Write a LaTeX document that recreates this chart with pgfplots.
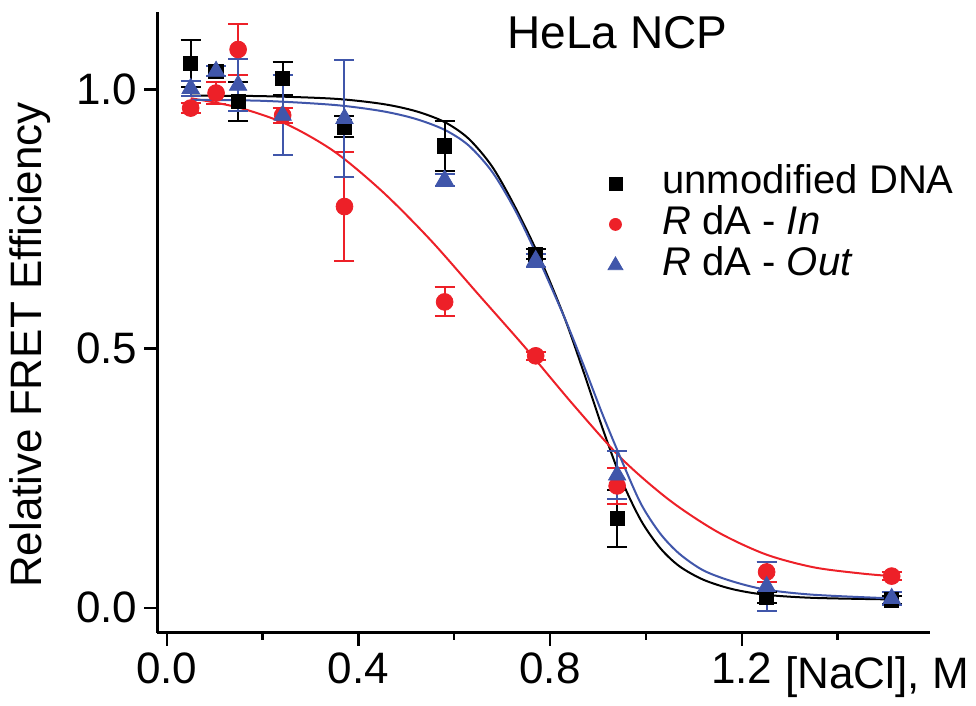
\documentclass[border=0pt]{standalone}
\usepackage{fontspec}
\setmainfont{Liberation Sans}
\usepackage{pgfplots}
\pgfplotsset{compat=1.18}
\definecolor{fitred}{RGB}{237,32,40}
\definecolor{fitblue}{RGB}{64,86,170}
\pgfplotsset{
  ebars/.style={error bars/.cd, y dir=both, y explicit,
    error bar style={line width=1pt, #1},
    error mark options={rotate=90, mark size=5pt, line width=1pt, #1}},
}
\begin{document}
\begin{tikzpicture}
\begin{axis}[
  scale only axis, width=386.4pt, height=310.5pt,
  xmin=-0.0196, xmax=1.593, ymin=-0.048, ymax=1.15,
  axis x line=bottom, axis y line=left,
  axis line style={-, line width=1.3pt},
  tick align=outside, major tick length=6.5pt, minor tick length=3.5pt,
  every tick/.style={black, line width=1.2pt},
  xtick={0,0.4,0.8,1.2}, minor xtick={0.2,0.6,1.0,1.4},
  ytick={0,0.5,1.0},
  /pgf/number format/.cd, fixed, fixed zerofill, precision=1, assume math mode=true, /pgfplots/.cd,
  ticklabel style={font=\fontsize{22}{26}\selectfont},
  clip=false,
  title={HeLa NCP},
  title style={at={(axis description cs:0.4526,0.9206)}, anchor=base west, inner sep=0pt, font=\fontsize{23}{27}\selectfont},
  xlabel={[NaCl], M},
  xlabel style={at={(axis description cs:0.8124,-0.0895)}, anchor=base west, inner sep=0pt, font=\fontsize{22}{26}\selectfont},
  ylabel={Relative FRET Efficiency},
  ylabel style={at={(axis description cs:-0.1647,0.463)}, anchor=center, inner sep=0pt, font=\fontsize{22}{26}\selectfont},
  legend image code/.code={\draw[#1] plot coordinates {(0pt,0pt)}; \path[draw=none, fill=none] (-8pt,-9pt) (23.5pt,9pt);},
  legend style={at={(0.5717,0.753)}, anchor=north west, draw=none, fill=none, inner sep=0pt,
    font=\fontsize{20}{24}\selectfont, row sep=2.5pt,
    nodes={inner xsep=0pt, inner ysep=0pt, text height=14pt, text depth=4pt}},
  legend cell align=left,
]
\addlegendimage{only marks, mark=square*, mark size=3.25pt, black}
\addlegendentry{unmodified DNA}
\addlegendimage{only marks, mark=*, mark size=3pt, fitred}
\addlegendentry{\textit{R} dA - \textit{In}}
\addlegendimage{only marks, mark=triangle*, mark size=4.3pt, fitblue}
\addlegendentry{\textit{R} dA - \textit{Out}}

% fitted curves
\addplot[black, line width=1pt, smooth, forget plot] coordinates {
  (0.05,0.988) (0.20,0.987) (0.35,0.982) (0.45,0.972) (0.52,0.958) (0.58,0.937)
  (0.63,0.905) (0.68,0.850) (0.73,0.768) (0.78,0.672) (0.83,0.560) (0.87,0.455)
  (0.91,0.345) (0.95,0.245) (0.99,0.168) (1.03,0.115) (1.07,0.080) (1.12,0.054)
  (1.18,0.036) (1.25,0.025) (1.35,0.019) (1.513,0.016)
};
\addplot[fitred, line width=1pt, smooth, forget plot] coordinates {
  (0.05,0.983) (0.15,0.965) (0.25,0.933) (0.35,0.880) (0.45,0.803) (0.55,0.710)
  (0.65,0.605) (0.75,0.500) (0.85,0.390) (0.95,0.287) (1.05,0.207) (1.15,0.146)
  (1.25,0.103) (1.35,0.078) (1.45,0.066) (1.513,0.061)
};
\addplot[fitblue, line width=1pt, smooth, forget plot] coordinates {
  (0.05,0.980) (0.20,0.978) (0.35,0.970) (0.45,0.958) (0.52,0.943) (0.58,0.922)
  (0.63,0.892) (0.68,0.840) (0.73,0.762) (0.78,0.665) (0.83,0.560) (0.87,0.468)
  (0.91,0.372) (0.95,0.283) (0.99,0.200) (1.03,0.143) (1.07,0.104) (1.12,0.072)
  (1.18,0.051) (1.25,0.035) (1.35,0.025) (1.513,0.018)
};

% data with error bars
\addplot[only marks, mark=square*, mark size=3.6pt, black, forget plot, ebars=black] coordinates {
  (0.050,1.050) +- (0,0.045)
  (0.103,1.035) +- (0,0.010)
  (0.149,0.977) +- (0,0.038)
  (0.242,1.021) +- (0,0.032)
  (0.371,0.928) +- (0,0.020)
  (0.580,0.891) +- (0,0.049)
  (0.770,0.682) +- (0,0.010)
  (0.940,0.172) +- (0,0.055)
  (1.252,0.020) +- (0,0.010)
  (1.513,0.015) +- (0,0.008)
};
\addplot[only marks, mark=*, mark size=4.2pt, fitred, forget plot, ebars=fitred] coordinates {
  (0.050,0.964) +- (0,0.010)
  (0.103,0.993) +- (0,0.022)
  (0.149,1.077) +- (0,0.050)
  (0.242,0.950) +- (0,0.015)
  (0.371,0.774) +- (0,0.106)
  (0.580,0.590) +- (0,0.028)
  (0.770,0.486) +- (0,0.008)
  (0.940,0.235) +- (0,0.035)
  (1.252,0.069) +- (0,0.020)
  (1.513,0.061) +- (0,0.008)
};
\addplot[only marks, mark=triangle*, mark size=5pt, fitblue, forget plot, ebars=fitblue] coordinates {
  (0.050,1.002) +- (0,0.015)
  (0.103,1.035) +- (0,0.010)
  (0.149,1.008) +- (0,0.050)
  (0.242,0.950) +- (0,0.077)
  (0.371,0.944) +- (0,0.113)
  (0.580,0.825) +- (0,0.012)
  (0.770,0.670) +- (0,0.012)
  (0.940,0.256) +- (0,0.047)
  (1.252,0.041) +- (0,0.048)
  (1.513,0.018) +- (0,0.012)
};

% page frame
\path (rel axis cs:-0.2036,-0.118) rectangle (rel axis cs:1.0595,1.0188);
\end{axis}
\end{tikzpicture}
\end{document}
